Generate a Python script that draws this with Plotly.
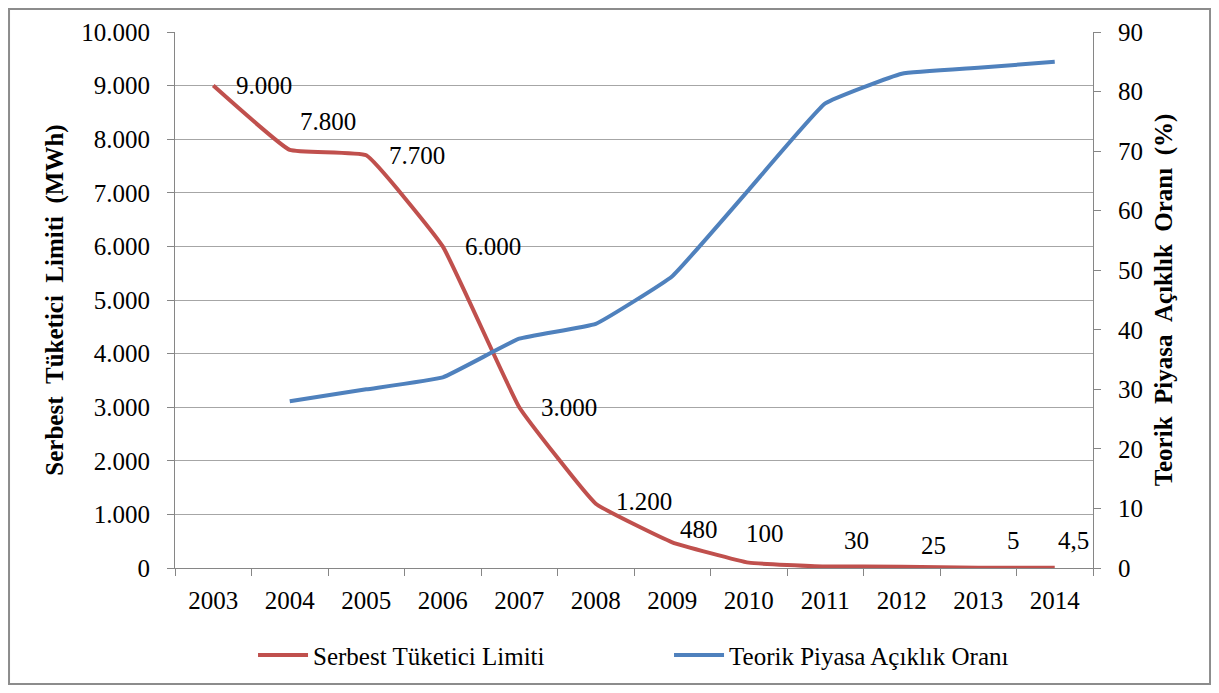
import plotly.graph_objects as go

# veriler
years = [str(y) for y in range(2003, 2015)]
limit_mwh = [9000, 7800, 7700, 6000, 3000, 1200, 480, 100, 30, 25, 5, 4.5]
openness_pct = [None, 28, 30, 32, 38.5, 41, 49, 63.5, 78, 83, 84, 85]

# etiket kaydırmaları (px)
label_shift = [(21, 0), (8, 28), (21, 0), (20, 0), (20, 0), (18, 2),
               (6, 13), (-5, 29), (17, 26), (17, 21), (27, 27), (1, 27)]

FONT = "Times New Roman, Liberation Serif, serif"
RED = "#C0504D"
BLUE = "#4F81BD"
SP = " \u00a0"  # Excel'deki geniş kelime aralığı


def tr_fmt(v):
    if float(v).is_integer():
        return f"{int(v):,}".replace(",", ".")
    return str(v).replace(".", ",")


fig = go.Figure()

fig.add_trace(go.Scatter(
    x=years, y=limit_mwh, mode="lines", name="Serbest Tüketici Limiti",
    line=dict(color=RED, width=4, shape="spline", smoothing=0.3),
))
fig.add_trace(go.Scatter(
    x=years, y=openness_pct, mode="lines", name="Teorik Piyasa Açıklık Oranı",
    line=dict(color=BLUE, width=4, shape="spline", smoothing=0.3),
    yaxis="y2",
))

# veri etiketleri (kategori sırası ile)
for i, (v, (dx, dy)) in enumerate(zip(limit_mwh, label_shift)):
    fig.add_annotation(
        x=i, y=v, xref="x", yref="y", text=tr_fmt(v), showarrow=False,
        xanchor="left", yanchor="middle", xshift=dx, yshift=dy,
        font=dict(family=FONT, size=25, color="black"),
    )

axis_font = dict(family=FONT, size=25, color="black")
title_font = dict(family=FONT, size=25, color="black")

left_title = SP.join(["Serbest", "Tüketici", "Limiti", "(MWh)"])
right_title = SP.join(["Teorik", "Piyasa", "Açıklık", "Oranı", "(%)"])

fig.update_layout(
    width=1203, height=677,
    margin=dict(l=167, r=118, t=24, b=117),
    paper_bgcolor="white", plot_bgcolor="white",
    separators=",.",
    font=dict(family=FONT, size=25, color="black"),
    xaxis=dict(
        type="category", range=[-0.5, 11.5],
        tickfont=axis_font, ticks="outside", tickson="boundaries",
        ticklen=7, tickcolor="#868686", ticklabelstandoff=10,
        showline=True, linecolor="#868686", linewidth=1,
        showgrid=False,
    ),
    yaxis=dict(
        range=[0, 10000], dtick=1000, tickformat=",d", separatethousands=True,
        tickfont=axis_font, ticks="outside", ticklen=7, tickcolor="#868686",
        ticklabelstandoff=12,
        showline=True, linecolor="#868686", linewidth=1,
        showgrid=True, gridcolor="#A6A6A6", gridwidth=1,
        zeroline=False,
        title=dict(text=f"<b>{left_title}</b>", font=title_font, standoff=10),
    ),
    yaxis2=dict(
        range=[0, 90], dtick=10, overlaying="y", side="right",
        tickfont=axis_font, ticks="outside", ticklen=7, tickcolor="#868686",
        ticklabelstandoff=12,
        showline=True, linecolor="#868686", linewidth=1,
        showgrid=False, zeroline=False,
        title=dict(text=f"<b>{right_title}</b>", font=title_font, standoff=12),
    ),
    legend=dict(
        orientation="h", x=0.085, xanchor="left",
        yref="container", y=0.078, yanchor="top",
        bgcolor="rgba(0,0,0,0)",
        font=dict(family=FONT, size=25, color="black"),
        itemwidth=50, entrywidth=351, entrywidthmode="pixels",
    ),
    shapes=[dict(
        type="rect", xref="paper", yref="paper",
        x0=-0.1808, x1=1.1275, y0=-0.2164, y1=1.0429,
        line=dict(color="#8C8C8C", width=2), fillcolor="rgba(0,0,0,0)",
    )],
)

fig.write_html("out.html")
